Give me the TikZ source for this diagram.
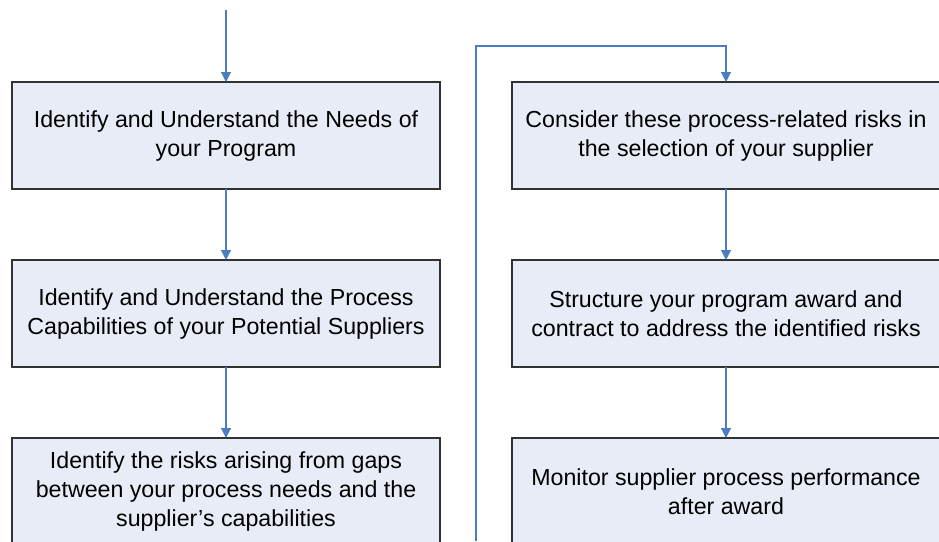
\documentclass[tikz,border=0pt]{standalone}
\usepackage{fontspec}
\setmainfont{Liberation Sans}
\usetikzlibrary{positioning,arrows.meta}
\definecolor{boxfill}{RGB}{232,236,246}
\definecolor{flowblue}{RGB}{74,126,193}
\definecolor{boxline}{RGB}{50,50,50}

\begin{document}
\begin{tikzpicture}[x=1pt, y=1pt,
        stepbox/.style={rectangle, draw=boxline, fill=boxfill, line width=1.2pt, outer sep=0pt,
            inner sep=6pt, text width=416pt, minimum height=107pt, align=flush center,
            font=\fontsize{23.2}{29}\selectfont},
        flow/.style={draw=flowblue, line width=1.2pt, -{Triangle[width=10pt,length=10pt]}}]
        \useasboundingbox (0,0) rectangle (939,-541);
        \node[stepbox] (needs) at (226,-135.5) {Identify and Understand the Needs of your Program};
        \node[stepbox] (capab) [below=71pt of needs] {Identify and Understand the Process Capabilities of your Potential Suppliers};
        \node[stepbox] (gaps) [below=71pt of capab] {Identify the risks arising from gaps between your process needs and the supplier's capabilities};
        \node[stepbox] (select) [right=72pt of needs] {Consider these process-related risks in the selection of your supplier};
        \node[stepbox] (award) [below=71pt of select] {Structure your program award and contract to address the identified risks};
        \node[stepbox] (monitor) [below=71pt of award] {Monitor supplier process performance after award};
        \coordinate (start) at (226,-10);
        \coordinate (loopbot) at (476,-541);
        \coordinate (looptop) at (476,-46);
        \draw[flow] (start) -- (needs.north);
        \draw[flow] (needs.south) -- (capab.north);
        \draw[flow] (capab.south) -- (gaps.north);
        \draw[flow] (loopbot) -- (looptop) -| (select.north);
        \draw[flow] (select.south) -- (award.north);
        \draw[flow] (award.south) -- (monitor.north);
\end{tikzpicture}
\end{document}
